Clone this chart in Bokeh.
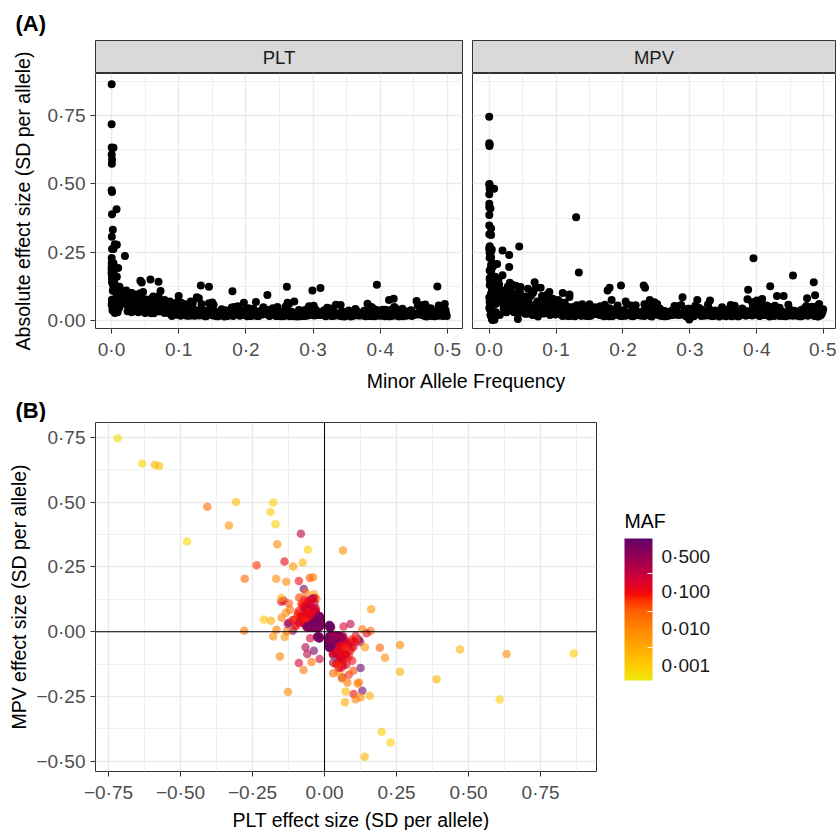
import numpy as np
from bokeh.plotting import figure
from bokeh.models import (Range1d, FixedTicker, CustomJSTickFormatter, Span, Label,
                          LinearColorMapper, ColorBar, ColumnDataSource)
from bokeh.layouts import column, row
from bokeh.embed import file_html
from bokeh.resources import INLINE

FONT = "Liberation Sans"

# ---------------- data ----------------
# outlying variants: MAF, PLT beta, MPV beta
OUT_MAF = [0.0002, 0.00025, 0.0008, 0.0005, 0.0002, 0.0075, 0.002, 0.0005, 0.008, 0.005,
           0.02, 0.0004, 0.001, 0.0003, 0.0003, 0.0003, 0.003, 0.003, 0.045, 0.003,
           0.002, 0.13, 0.0006, 0.0003, 0.03, 0.012, 0.003, 0.002, 0.008, 0.01,
           0.003, 0.003, 0.0008, 0.485, 0.0008, 0.395, 0.005, 0.03, 0.004, 0.003,
           0.001, 0.0007, 0.0003, 0.0003, 0.0008, 0.003, 0.004, 0.07, 0.005, 0.299,
           0.003, 0.004, 0.002, 0.005, 0.004, 0.003, 0.058, 0.07, 0.012, 0.015,
           0.454, 0.004, 0.0015, 0.005, 0.0008, 0.003, 0.0003, 0.0008, 0.0003, 0.02,
           0.134, 0.0015, 0.005, 0.03, 0.04, 0.043, 0.005, 0.073, 0.1, 0.12,
           0.006, 0.09, 0.4, 0.15]
OUT_PLT = [-0.718, -0.633, -0.589, -0.574, -0.477, -0.407, -0.332, -0.307, -0.277, -0.279,
           -0.236, -0.211, -0.186, -0.1875, -0.178, -0.170, -0.164, -0.168, -0.139, -0.133,
           -0.109, -0.082, -0.076, -0.058, -0.089, -0.051, 0.064, 0.162, 0.160, 0.192,
           0.210, 0.262, 0.262, 0.125, 0.157, 0.131, 0.119, 0.101, 0.108, 0.125,
           0.071, 0.073, 0.198, 0.229, 0.139, -0.127, -0.155, -0.089, -0.073, -0.110,
           -0.178, -0.167, -0.138, -0.130, -0.149, -0.134, -0.150, -0.142, -0.124, -0.088,
           -0.072, -0.049, -0.037, -0.028, 0.470, 0.632, 0.865, 0.389, 0.608, 0.084,
           0.061, 0.050, 0.079, 0.096, 0.076, 0.146, 0.131, 0.108, 0.090, -0.060,
           -0.045, -0.017, -0.037, -0.066]
OUT_MPV = [0.746, 0.649, 0.644, 0.639, 0.348, 0.482, 0.410, 0.500, 0.204, 0.004,
           0.256, 0.047, 0.042, 0.462, 0.498, 0.415, 0.337, 0.204, 0.271, 0.193,
           0.252, 0.378, 0.267, 0.316, 0.196, 0.207, 0.313, 0.087, 0.003, -0.062,
           -0.100, -0.051, -0.154, -0.140, -0.247, -0.228, -0.196, -0.240, -0.260, -0.253,
           -0.272, -0.230, -0.386, -0.427, -0.482, -0.231, -0.095, -0.121, -0.148, 0.004,
           -0.018, 0.008, -0.020, 0.002, 0.054, 0.073, 0.116, 0.120, 0.109, 0.132,
           0.165, 0.120, 0.145, 0.126, -0.068, -0.086, -0.084, -0.183, -0.261, -0.166,
           -0.176, -0.157, -0.196, -0.112, -0.127, -0.006, 0.010, -0.015, 0.030, -0.086,
           -0.117, -0.105, -0.073, -0.060]

# common variants with moderate effects
MID_MAF = [0.133, 0.145, 0.180, 0.232, 0.261, 0.311, 0.413, 0.420, 0.197, 0.215,
           0.262, 0.272, 0.098, 0.118, 0.127, 0.231, 0.233, 0.177, 0.180, 0.289,
           0.311, 0.330, 0.240, 0.247, 0.386, 0.393, 0.183, 0.204, 0.110, 0.120,
           0.103, 0.084, 0.420, 0.387, 0.430, 0.440, 0.487, 0.475, 0.408,
           0.031, 0.047, 0.068, 0.077]
MID_PLT = [-0.128, 0.124, -0.107, 0.094, -0.124, 0.119, 0.075, -0.080, 0.065, -0.068,
           0.065, -0.070, -0.068, 0.070, -0.085, -0.040, 0.030, -0.035, 0.045, 0.040,
           -0.030, 0.035, -0.045, 0.050, -0.030, 0.040, -0.050, 0.045, -0.060, 0.055,
           -0.050, 0.060, -0.045, 0.050, -0.035, 0.030, -0.055, 0.045, -0.040,
           0.060, -0.070, 0.050, -0.055]
MID_MPV = [0.030, -0.040, 0.045, -0.060, 0.035, -0.030, -0.040, 0.050, -0.128, 0.040,
           -0.035, 0.030, 0.060, -0.050, 0.040, 0.128, -0.120, 0.110, -0.120, -0.085,
           0.075, -0.073, 0.075, -0.067, 0.078, -0.067, 0.075, -0.070, 0.101, -0.095,
           0.075, -0.077, 0.126, -0.113, 0.090, -0.090, 0.093, -0.082, 0.079,
           -0.138, 0.123, -0.140, 0.120]

# low-frequency variants with moderate effects
LOW_MAF = [0.008, 0.012, 0.015, 0.018, 0.022, 0.025, 0.028, 0.032, 0.035, 0.038,
           0.042, 0.045, 0.050, 0.055, 0.060, 0.065, 0.010, 0.006, 0.014, 0.020,
           0.003, 0.005, 0.009, 0.016, 0.026, 0.070, 0.080, 0.090, 0.040, 0.030,
           0.002, 0.001, 0.004, 0.007, 0.011]
LOW_PLT = [-0.095, 0.085, -0.075, 0.070, -0.060, 0.065, -0.090, 0.055, -0.050, 0.075,
           -0.045, 0.060, -0.070, 0.040, -0.055, 0.080, 0.110, -0.120, 0.100, -0.080,
           0.060, -0.040, 0.030, -0.100, 0.095, -0.040, 0.050, -0.045, 0.030, -0.030,
           0.140, -0.150, 0.115, -0.065, 0.045]
LOW_MPV = [0.060, -0.070, 0.095, -0.085, 0.050, -0.100, 0.080, -0.060, 0.070, -0.045,
           0.040, -0.115, 0.030, -0.055, 0.085, -0.100, -0.030, 0.085, -0.150, 0.110,
           -0.180, 0.210, -0.160, 0.020, -0.040, 0.060, -0.045, 0.055, -0.080, 0.090,
           -0.060, 0.130, -0.200, 0.150, -0.125]

# fairly common variants around the central cloud
NEAR_MAF = [0.021, 0.023, 0.025, 0.027, 0.029, 0.032, 0.034, 0.036, 0.039, 0.041,
            0.044, 0.046, 0.049, 0.052, 0.054, 0.057, 0.060, 0.063, 0.066, 0.069,
            0.072, 0.075, 0.078, 0.082, 0.086, 0.089, 0.093, 0.097, 0.102, 0.106,
            0.111, 0.117, 0.024, 0.030, 0.037, 0.043, 0.050, 0.058, 0.065, 0.071,
            0.079, 0.087, 0.095, 0.104, 0.113, 0.022, 0.028, 0.035, 0.047, 0.062]
NEAR_PLT = [0.085, -0.078, 0.064, -0.092, 0.101, -0.059, 0.072, -0.083, 0.055, -0.068,
            0.090, -0.051, 0.062, -0.077, 0.047, -0.064, 0.081, -0.046, 0.058, -0.073,
            0.043, -0.056, 0.069, -0.041, 0.052, -0.062, 0.038, -0.049, 0.057, -0.036,
            0.046, -0.053, 0.034, -0.042, 0.095, -0.100, 0.028, -0.030, 0.066, -0.050,
            0.075, -0.070, 0.060, -0.065, 0.050, -0.110, 0.040, -0.035, 0.105, -0.088]
NEAR_MPV = [-0.095, 0.102, -0.110, 0.070, -0.058, 0.118, -0.084, 0.061, -0.097, 0.089,
            -0.072, 0.105, -0.066, 0.054, -0.088, 0.079, -0.051, 0.093, -0.104, 0.048,
            -0.070, 0.066, -0.045, 0.082, -0.061, 0.044, -0.075, 0.057, -0.040, 0.068,
            -0.055, 0.039, -0.062, 0.050, -0.030, 0.025, -0.085, 0.076, 0.020, -0.025,
            -0.090, 0.095, -0.080, 0.072, -0.065, 0.045, -0.125, 0.130, -0.040, 0.035]

# common variants with small effects (the dense band / central cloud)
CORE_MAF = [0.021, 0.024, 0.026, 0.029, 0.031, 0.033, 0.036, 0.038, 0.041, 0.043,
            0.046, 0.048, 0.051, 0.053, 0.056, 0.059, 0.062, 0.064, 0.067, 0.071,
            0.073, 0.076, 0.079, 0.082, 0.085, 0.088, 0.091, 0.094, 0.097, 0.101,
            0.104, 0.106, 0.109, 0.112, 0.116, 0.119, 0.122, 0.125, 0.128, 0.131,
            0.135, 0.138, 0.141, 0.144, 0.147, 0.151, 0.154, 0.157, 0.161, 0.164,
            0.167, 0.171, 0.174, 0.177, 0.181, 0.184, 0.187, 0.191, 0.194, 0.198,
            0.201, 0.204, 0.208, 0.211, 0.214, 0.218, 0.221, 0.225, 0.228, 0.231,
            0.235, 0.238, 0.241, 0.245, 0.248, 0.252, 0.255, 0.258, 0.262, 0.265,
            0.268, 0.272, 0.275, 0.279, 0.282, 0.285, 0.289, 0.292, 0.296, 0.299,
            0.302, 0.306, 0.309, 0.313, 0.316, 0.319, 0.323, 0.326, 0.329, 0.333,
            0.336, 0.339, 0.343, 0.346, 0.349, 0.353, 0.356, 0.359, 0.363, 0.366,
            0.369, 0.373, 0.376, 0.379, 0.383, 0.386, 0.389, 0.393, 0.396, 0.399,
            0.403, 0.406, 0.409, 0.413, 0.416, 0.419, 0.423, 0.426, 0.429, 0.433,
            0.436, 0.439, 0.443, 0.446, 0.449, 0.453, 0.456, 0.459, 0.463, 0.466,
            0.469, 0.473, 0.476, 0.479, 0.483, 0.486, 0.489, 0.492, 0.495, 0.498,
            0.022, 0.027, 0.034, 0.039, 0.044, 0.049, 0.054, 0.058, 0.063, 0.069,
            0.074, 0.081, 0.087, 0.093, 0.099, 0.108, 0.114, 0.121, 0.127, 0.134,
            0.142, 0.149, 0.156, 0.163, 0.169, 0.176, 0.183, 0.189, 0.196, 0.203,
            0.209, 0.216, 0.223, 0.229, 0.236, 0.243, 0.249, 0.256, 0.263, 0.269,
            0.276, 0.283, 0.291, 0.297, 0.304, 0.311, 0.318, 0.324, 0.331, 0.338,
            0.344, 0.351, 0.358, 0.364, 0.371, 0.378, 0.384, 0.391, 0.398, 0.404,
            0.411, 0.418, 0.424, 0.431, 0.438, 0.444, 0.451, 0.458, 0.464, 0.471,
            0.478, 0.484, 0.491, 0.497, 0.499, 0.494, 0.488, 0.481, 0.475, 0.468]
CORE_PLT = [0.072, -0.055, 0.048, -0.081, 0.063, -0.040, 0.058, -0.067, 0.035, -0.052,
            0.044, -0.061, 0.030, -0.049, 0.056, -0.027, 0.041, -0.063, 0.037, -0.033,
            0.039, -0.045, 0.028, -0.052, 0.033, -0.024, 0.047, -0.036, 0.021, -0.043,
            0.031, -0.022, 0.040, -0.035, 0.018, -0.046, 0.027, -0.019, 0.038, -0.029,
            0.024, -0.037, 0.016, -0.030, 0.042, -0.019, 0.033, -0.026, 0.021, -0.041,
            0.029, -0.017, 0.036, -0.023, 0.020, -0.032, 0.045, -0.018, 0.025, -0.039,
            0.021, -0.028, 0.018, -0.043, 0.034, -0.017, 0.027, -0.022, 0.040, -0.025,
            0.017, -0.033, 0.025, -0.019, 0.038, -0.021, 0.023, -0.036, 0.028, -0.016,
            0.032, -0.020, 0.022, -0.039, 0.018, -0.026, 0.035, -0.019, 0.041, -0.024,
            0.019, -0.031, 0.021, -0.024, 0.037, -0.016, 0.028, -0.044, 0.018, -0.022,
            0.026, -0.018, 0.034, -0.020, 0.021, -0.037, 0.015, -0.029, 0.042, -0.023,
            0.020, -0.027, 0.036, -0.020, 0.030, -0.017, 0.024, -0.040, 0.018, -0.033,
            0.023, -0.035, 0.019, -0.028, 0.039, -0.021, 0.031, -0.021, 0.016, -0.043,
            0.033, -0.018, 0.027, -0.038, 0.020, -0.025, 0.022, -0.032, 0.045, -0.017,
            0.015, -0.030, 0.041, -0.023, 0.024, -0.036, 0.028, -0.019, 0.034, -0.026,
            -0.066, 0.050, -0.038, 0.071, -0.046, 0.032, -0.058, 0.043, -0.027, 0.054,
            -0.034, 0.046, -0.025, 0.038, -0.030, 0.023, -0.041, 0.019, -0.032, 0.027,
            -0.022, 0.035, -0.016, 0.027, -0.038, 0.021, -0.029, 0.041, -0.020, 0.031,
            -0.030, 0.018, -0.037, 0.024, -0.019, 0.039, -0.026, 0.016, -0.033, 0.022,
            -0.015, 0.036, -0.024, 0.021, -0.040, 0.029, -0.018, 0.033, -0.022, 0.025,
            -0.028, 0.021, -0.017, 0.038, -0.025, 0.016, -0.035, 0.020, -0.031, 0.040,
            -0.019, 0.032, -0.042, 0.018, -0.027, 0.036, -0.021, 0.024, -0.037, 0.020,
            -0.036, 0.019, -0.025, 0.039, -0.017, 0.029, -0.044, 0.021, -0.018, 0.033]
CORE_MPV = [-0.060, 0.075, -0.030, 0.052, -0.088, 0.045, -0.038, 0.070, -0.065, 0.028,
            -0.050, 0.035, -0.062, 0.058, -0.025, 0.066, -0.047, 0.022, -0.054, 0.060,
            -0.030, 0.048, -0.055, 0.026, -0.042, 0.058, -0.020, 0.037, -0.046, 0.033,
            -0.043, 0.028, -0.019, 0.050, -0.036, 0.022, -0.048, 0.040, -0.016, 0.034,
            -0.032, 0.018, -0.045, 0.027, -0.017, 0.039, -0.024, 0.046, -0.030, 0.021,
            -0.020, 0.037, -0.019, 0.031, -0.042, 0.016, -0.028, 0.044, -0.035, 0.021,
            -0.038, 0.018, -0.029, 0.024, -0.016, 0.041, -0.033, 0.026, -0.019, 0.036,
            -0.027, 0.040, -0.017, 0.033, -0.022, 0.021, -0.044, 0.018, -0.031, 0.025,
            -0.018, 0.034, -0.040, 0.022, -0.028, 0.021, -0.023, 0.037, -0.024, 0.043,
            -0.035, 0.016, -0.026, 0.039, -0.020, 0.030, -0.019, 0.023, -0.042, 0.017,
            -0.018, 0.027, -0.021, 0.036, -0.031, 0.017, -0.040, 0.025, -0.020, 0.032,
            -0.029, 0.016, -0.022, 0.041, -0.019, 0.034, -0.025, 0.019, -0.037, 0.022,
            -0.021, 0.038, -0.027, 0.020, -0.034, 0.015, -0.022, 0.043, -0.030, 0.024,
            -0.024, 0.031, -0.016, 0.029, -0.041, 0.019, -0.036, 0.020, -0.026, 0.039,
            -0.033, 0.022, -0.018, 0.035, -0.027, 0.017, -0.039, 0.028, -0.021, 0.031,
            0.042, -0.068, 0.059, -0.033, 0.071, -0.052, 0.025, -0.061, 0.049, -0.036,
            0.050, -0.027, 0.044, -0.039, 0.022, -0.047, 0.031, -0.036, 0.018, -0.042,
            0.036, -0.017, 0.043, -0.028, 0.019, -0.038, 0.025, -0.021, 0.033, -0.023,
            0.021, -0.039, 0.020, -0.030, 0.042, -0.015, 0.027, -0.036, 0.018, -0.032,
            0.038, -0.020, 0.029, -0.043, 0.016, -0.025, 0.040, -0.021, 0.034, -0.037,
            0.015, -0.035, 0.041, -0.018, 0.030, -0.044, 0.019, -0.027, 0.039, -0.017,
            0.032, -0.020, 0.026, -0.040, 0.019, -0.029, 0.037, -0.021, 0.016, -0.045,
            0.023, -0.037, 0.015, -0.026, 0.041, -0.018, 0.030, -0.039, 0.027, -0.018]

# more common variants at the upper edge of the band
EXTRA_MAF = [0.103, 0.117, 0.126, 0.139, 0.152, 0.166, 0.173, 0.188, 0.199, 0.212,
             0.226, 0.239, 0.251, 0.264, 0.277, 0.287, 0.301, 0.314, 0.327, 0.341,
             0.354, 0.367, 0.381, 0.394, 0.407, 0.421, 0.434, 0.447, 0.461, 0.474,
             0.487, 0.496, 0.110, 0.131, 0.158, 0.179, 0.206, 0.233, 0.259, 0.281,
             0.308, 0.334, 0.361, 0.388, 0.415, 0.441, 0.467, 0.493, 0.145, 0.192,
             0.247, 0.294, 0.348, 0.401, 0.456, 0.482, 0.121, 0.219, 0.321, 0.427]
EXTRA_PLT = [0.018, -0.055, 0.024, -0.016, 0.058, -0.021, 0.017, -0.052, 0.030, -0.019,
             0.049, -0.023, 0.016, -0.060, 0.023, -0.018, 0.054, -0.020, 0.017, -0.057,
             0.027, -0.019, 0.062, -0.024, 0.016, -0.050, 0.021, -0.017, 0.056, -0.022,
             0.018, -0.061, 0.053, -0.019, 0.025, -0.048, 0.017, -0.031, 0.051, -0.016,
             0.020, -0.058, 0.019, -0.047, 0.016, -0.028, 0.059, -0.018, -0.063, 0.022,
             -0.017, 0.052, -0.023, 0.018, -0.055, 0.024, 0.065, -0.017, 0.047, -0.016]
EXTRA_MPV = [-0.056, 0.017, -0.050, 0.060, -0.018, 0.052, -0.058, 0.020, -0.017, 0.055,
             -0.019, 0.049, -0.061, 0.016, -0.053, 0.057, -0.018, 0.046, -0.059, 0.019,
             -0.016, 0.054, -0.022, 0.050, -0.062, 0.017, -0.047, 0.058, -0.018, 0.053,
             -0.051, 0.021, -0.017, 0.056, -0.049, 0.016, -0.060, 0.024, -0.018, 0.052,
             -0.054, 0.017, -0.057, 0.020, -0.055, 0.018, -0.021, 0.061, 0.018, -0.055,
             0.058, -0.016, 0.049, -0.060, 0.019, -0.051, -0.017, 0.056, -0.019, 0.054]

# common variants with the smallest effects (centre of panel B)
CENTER_MAF = [0.112, 0.128, 0.143, 0.159, 0.172, 0.186, 0.202, 0.217, 0.232, 0.246,
              0.261, 0.274, 0.288, 0.303, 0.317, 0.332, 0.347, 0.362, 0.376, 0.391,
              0.405, 0.419, 0.434, 0.448, 0.462, 0.477, 0.491, 0.124, 0.153, 0.181,
              0.213, 0.244, 0.271, 0.298, 0.329, 0.357, 0.384, 0.412, 0.439, 0.466,
              0.494, 0.137, 0.168, 0.196, 0.227, 0.256, 0.284, 0.313, 0.343, 0.371,
              0.398, 0.426, 0.453, 0.481, 0.108, 0.165, 0.238, 0.309, 0.368, 0.445]
CENTER_PLT = [0.018, -0.022, 0.025, -0.016, 0.020, -0.027, 0.016, -0.019, 0.023, -0.017,
              0.021, -0.024, 0.017, -0.020, 0.026, -0.018, 0.015, -0.023, 0.019, -0.016,
              0.022, -0.018, 0.016, -0.025, 0.020, -0.017, 0.024, 0.019, -0.021, 0.017,
              -0.026, 0.018, -0.016, 0.022, -0.019, 0.025, -0.017, 0.016, -0.023, 0.020,
              -0.018, 0.028, -0.015, 0.021, -0.024, 0.017, -0.020, 0.023, -0.016, 0.019,
              -0.022, 0.018, -0.025, 0.016, 0.030, -0.029, 0.027, -0.031, 0.026, -0.028]
CENTER_MPV = [0.020, -0.017, -0.019, 0.024, 0.016, -0.021, -0.025, 0.018, 0.017, -0.023,
              -0.016, 0.020, 0.026, -0.018, -0.017, 0.022, 0.019, -0.016, -0.024, 0.021,
              0.018, -0.025, -0.017, 0.019, 0.023, -0.020, -0.016, -0.028, 0.022, -0.018,
              0.017, 0.025, -0.021, -0.016, 0.019, -0.023, 0.026, -0.020, 0.018, 0.016,
              -0.027, -0.019, 0.024, -0.017, 0.021, 0.018, -0.022, -0.025, 0.020, -0.016,
              0.023, 0.017, -0.019, 0.026, -0.022, 0.024, -0.031, 0.029, -0.027, 0.030]

# tick values / labels
A_X_TICKS = [0.0, 0.1, 0.2, 0.3, 0.4, 0.5]
A_X_MINOR = [0.05, 0.15, 0.25, 0.35, 0.45]
A_Y_TICKS = [0.0, 0.25, 0.5, 0.75]
A_Y_MINOR = [0.125, 0.375, 0.625, 0.875]
B_X_TICKS = [-0.75, -0.5, -0.25, 0.0, 0.25, 0.5, 0.75]
B_X_MINOR = [-0.625, -0.375, -0.125, 0.125, 0.375, 0.625, 0.875]
B_Y_TICKS = [-0.5, -0.25, 0.0, 0.25, 0.5, 0.75]
B_Y_MINOR = [-0.375, -0.125, 0.125, 0.375, 0.625]
MAF_LABELS = ["0\u00b7001", "0\u00b7010", "0\u00b7100", "0\u00b7500"]
MAF_BREAKS = [0.001, 0.01, 0.1]

# ---------------- derived columns ----------------
groups = [(OUT_MAF, OUT_PLT, OUT_MPV), (MID_MAF, MID_PLT, MID_MPV),
          (LOW_MAF, LOW_PLT, LOW_MPV), (NEAR_MAF, NEAR_PLT, NEAR_MPV),
          (CORE_MAF, CORE_PLT, CORE_MPV), (EXTRA_MAF, EXTRA_PLT, EXTRA_MPV),
          (CENTER_MAF, CENTER_PLT, CENTER_MPV)]
m_all, p_all, v_all = [], [], []
for gm, gp, gv in groups:
    n = min(len(gm), len(gp), len(gv))
    m_all += gm[:n]
    p_all += gp[:n]
    v_all += gv[:n]
maf = np.array(m_all)
plt_b = np.array(p_all)
mpv_b = np.array(v_all)
src = ColumnDataSource(dict(maf=maf, plt=plt_b, mpv=mpv_b,
                            abs_plt=np.abs(plt_b), abs_mpv=np.abs(mpv_b),
                            logit=np.log(maf / (1.0 - maf))))

# ---------------- palette (yellow -> orange -> red -> purple), logit(MAF) scale ----------------
STOPS = [(0.00, "#EDE80B"), (0.10, "#FFCB00"), (0.23, "#FFAA00"), (0.37, "#FF8400"),
         (0.49, "#FF5E00"), (0.57, "#FF2D00"), (0.61, "#F50A0A"), (0.70, "#DA0030"),
         (0.76, "#C2003F"), (0.88, "#930056"), (1.00, "#5F0568")]


def _rgb(h):
    return np.array([int(h[i:i + 2], 16) for i in (1, 3, 5)], dtype=float)


palette = []
for k in range(256):
    f = k / 255.0
    for (f0, c0), (f1, c1) in zip(STOPS[:-1], STOPS[1:]):
        if f0 <= f <= f1:
            w = (f - f0) / (f1 - f0)
            c = _rgb(c0) * (1 - w) + _rgb(c1) * w
            palette.append("#%02x%02x%02x" % tuple(int(round(v)) for v in c))
            break

LOGIT_LOW = -8.98
mapper = LinearColorMapper(palette=palette, low=LOGIT_LOW, high=0.0)

TICK_COL = "#4D4D4D"
TICK_SIZE = "19px"
TITLE_SIZE = "19.5px"


def fmt(nd):
    return CustomJSTickFormatter(
        code="return tick.toFixed(%d).replace('.', '\\u00b7').replace('-', '\\u2212');" % nd)


def style_axis(ax, ticks, minor, nd, label_standoff=5):
    ax.ticker = FixedTicker(ticks=ticks, minor_ticks=minor)
    ax.formatter = fmt(nd)
    ax.major_label_text_font = FONT
    ax.major_label_text_font_size = TICK_SIZE
    ax.major_label_text_color = TICK_COL
    ax.axis_label_text_font = FONT
    ax.axis_label_text_font_size = TITLE_SIZE
    ax.axis_label_text_font_style = "normal"
    ax.axis_label_text_color = "#000000"
    ax.axis_label_standoff = label_standoff
    ax.axis_line_color = None
    ax.major_tick_line_color = "#333333"
    ax.major_tick_out = 5
    ax.major_tick_in = 0
    ax.minor_tick_line_color = None
    ax.major_label_standoff = 5


def style_panel(p):
    p.outline_line_color = "#333333"
    p.outline_line_width = 1
    p.background_fill_color = "white"
    p.border_fill_color = "white"
    p.grid.grid_line_color = "#EBEBEB"
    p.grid.grid_line_width = 1.5
    p.grid.minor_grid_line_color = "#EBEBEB"
    p.grid.minor_grid_line_width = 0.8


def spacer(width, height):
    """blank canvas whose frame fills it; coordinates are pixels from the top-left"""
    s = figure(width=width, height=height, min_border=0, x_range=Range1d(0, width),
               y_range=Range1d(height, 0), x_axis_location=None, y_axis_location=None,
               toolbar_location=None, output_backend="svg")
    s.grid.visible = False
    s.outline_line_color = None
    s.background_fill_color = "white"
    s.border_fill_color = "white"
    return s


def text(fig, x, y, txt, size, align="center", bold=False, angle=0.0):
    fig.add_layout(Label(x=x, y=y, text=txt, text_align=align, text_baseline="middle",
                         text_font=FONT, text_font_size=size, angle=angle,
                         text_font_style="bold" if bold else "normal", text_color="black"))


def strip(title, width, left, right):
    s = figure(width=width, height=33, min_border_left=left, min_border_right=right,
               min_border_top=0, min_border_bottom=0, x_range=Range1d(0, 1),
               y_range=Range1d(0, 1), x_axis_location=None, y_axis_location=None,
               toolbar_location=None, output_backend="svg")
    s.grid.visible = False
    s.background_fill_color = "#D9D9D9"
    s.border_fill_color = "white"
    s.outline_line_color = "#333333"
    s.outline_line_width = 1
    s.add_layout(Label(x=0.5, y=0.5, text=title, text_align="center", text_baseline="middle",
                       text_font=FONT, text_font_size="18.5px", text_color="#1A1A1A"))
    return s


# ---------------- top: panel tag (A) ----------------
top = spacer(836, 40)
text(top, 15, 23, "(A)", "22px", align="left", bold=True)

# ---------------- panel A ----------------
A_YR = (-0.029, 0.904)
ylab = spacer(35, 324)
text(ylab, 22, 160.5, "Absolute effect size (SD per allele)", TITLE_SIZE, angle=np.pi / 2)

s1 = strip("PLT", 432, 60, 5)
s2 = strip("MPV", 369, 5, 1)

pA1 = figure(width=432, height=291, min_border_left=60, min_border_right=5,
             min_border_top=0, min_border_bottom=36,
             x_range=Range1d(-0.0238, 0.5224), y_range=Range1d(*A_YR),
             toolbar_location=None, output_backend="svg")
style_panel(pA1)
style_axis(pA1.xaxis[0], A_X_TICKS, A_X_MINOR, 1)
style_axis(pA1.yaxis[0], A_Y_TICKS, A_Y_MINOR, 2)
pA1.scatter("maf", "abs_plt", source=src, size=8, color="black", line_color=None)

pA2 = figure(width=369, height=291, min_border_left=5, min_border_right=1,
             min_border_top=0, min_border_bottom=36,
             x_range=Range1d(-0.0248, 0.5175), y_range=Range1d(*A_YR),
             y_axis_location=None, toolbar_location=None, output_backend="svg")
style_panel(pA2)
style_axis(pA2.xaxis[0], A_X_TICKS, A_X_MINOR, 1)
pA2.ygrid.ticker = FixedTicker(ticks=A_Y_TICKS, minor_ticks=A_Y_MINOR)
pA2.scatter("maf", "abs_mpv", source=src, size=8, color="black", line_color=None)

# ---------------- middle: shared x title of A and tag (B) ----------------
mid = spacer(836, 58)
text(mid, 466, 16, "Minor Allele Frequency", TITLE_SIZE)
text(mid, 15, 46, "(B)", "22px", align="left", bold=True)

# ---------------- panel B ----------------
pB = figure(width=601, height=383, min_border_left=95, min_border_right=5,
            min_border_top=0, min_border_bottom=34,
            x_range=Range1d(-0.795, 0.944), y_range=Range1d(-0.539, 0.807),
            toolbar_location=None, output_backend="svg")
style_panel(pB)
style_axis(pB.xaxis[0], B_X_TICKS, B_X_MINOR, 2)
style_axis(pB.yaxis[0], B_Y_TICKS, B_Y_MINOR, 2, label_standoff=3)
pB.yaxis.axis_label = "MPV effect size (SD per allele)"
pB.scatter("plt", "mpv", source=src, size=8.5, line_color=None, fill_alpha=0.6,
           fill_color={"field": "logit", "transform": mapper})
pB.add_layout(Span(location=0, dimension="width", line_color="black", line_width=1))
pB.add_layout(Span(location=0, dimension="height", line_color="black", line_width=1))

bottom = spacer(836, 25)
text(bottom, 360.5, 14, "PLT effect size (SD per allele)", TITLE_SIZE)

# ---------------- colour bar in its own area ----------------
BAR_PX = 142
LEG_H = 383
BAR_BOTTOM = 258          # from the top of the legend area
leg = figure(width=235, height=LEG_H, min_border_left=23, min_border_right=0,
             min_border_top=0, min_border_bottom=LEG_H - BAR_BOTTOM,
             x_range=Range1d(0, 212), y_range=Range1d(BAR_BOTTOM, 0),
             x_axis_location=None, y_axis_location=None,
             toolbar_location=None, output_backend="svg")
leg.grid.visible = False
leg.outline_line_color = None
leg.background_fill_color = "white"
leg.border_fill_color = "white"
text(leg, 0, 98, "MAF", TITLE_SIZE, align="left")

per_px = -LOGIT_LOW / BAR_PX
label_offsets_px = [127, 90, 53, 18]   # distance of each label from the bar top
label_pos = [-d * per_px for d in label_offsets_px]
break_pos = [float(np.log(b / (1 - b))) for b in MAF_BREAKS]
cb_code = ("var L = %s; var T = %s; var best = 0; var bd = 1e9;"
           "for (var i = 0; i < T.length; i++) { var d = Math.abs(T[i] - tick); if (d < bd) { bd = d; best = i; } }"
           "return L[best];") % (
    "[" + ",".join("'%s'" % s.replace("\u00b7", "\\u00b7") for s in MAF_LABELS) + "]",
    "[" + ",".join("%.4f" % v for v in label_pos) + "]")
cb = ColorBar(color_mapper=mapper, orientation="vertical", width=28, height=BAR_PX,
              ticker=FixedTicker(ticks=label_pos, minor_ticks=break_pos),
              formatter=CustomJSTickFormatter(code=cb_code),
              major_label_text_font=FONT, major_label_text_font_size=TICK_SIZE,
              major_label_text_color="#1A1A1A", label_standoff=9,
              major_tick_line_color=None, minor_tick_line_color="white",
              minor_tick_in=5, minor_tick_out=0, bar_line_color=None,
              border_line_color=None, background_fill_alpha=0,
              location="bottom_left", padding=0, margin=0)
leg.add_layout(cb, "center")

layout = column(top,
                row(ylab, column(s1, pA1), column(s2, pA2)),
                mid,
                row(pB, column(leg)),
                bottom)

with open("out.html", "w", encoding="utf-8") as fh:
    fh.write(file_html(layout, INLINE))
